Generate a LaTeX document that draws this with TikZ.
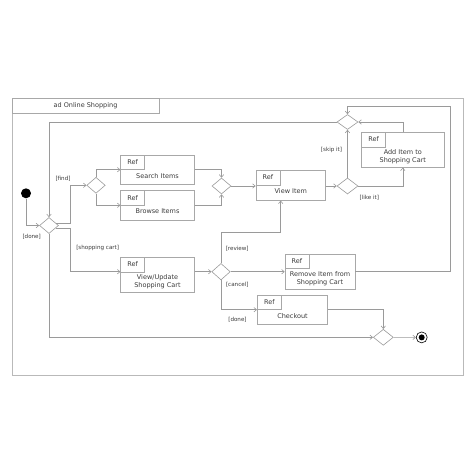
\documentclass[tikz,border=0pt]{standalone}
\usepackage{fontspec}
\setmainfont{DejaVu Sans}
\usetikzlibrary{positioning,arrows.meta,shapes.geometric}
\definecolor{linegray}{HTML}{9A9A9A}
\definecolor{boxgray}{HTML}{A8A8A8}
\definecolor{txtgray}{HTML}{3A3A3A}

\begin{document}
\begin{tikzpicture}[
  x=1pt, y=-1pt,
  every node/.style={font=\fontsize{6.5}{8.2}\selectfont, text=txtgray},
  act/.style={rectangle, draw=boxgray, line width=0.6pt, inner sep=0pt,
              label={[reftab]north west:Ref}},
  reftab/.style={anchor=north west, rectangle, draw=boxgray, line width=0.6pt,
                 minimum width=24pt, minimum height=14.5pt, inner sep=0pt},
  acttxt/.style={align=center, yshift=-6pt},
  acttwo/.style={align=center, yshift=-7pt},
  dec/.style={diamond, draw=linegray, line width=0.6pt, inner sep=0pt,
              minimum width=19pt, minimum height=16pt},
  startdot/.style={circle, fill=black, minimum size=10pt, inner sep=0pt},
  enddot/.style={circle, draw=black, line width=0.6pt, minimum size=11pt, inner sep=0pt,
                 path picture={\fill[black] (path picture bounding box.center) circle (3pt);}},
  frame/.style={draw=boxgray!80, line width=0.8pt},
  titlebox/.style={rectangle, draw=boxgray, line width=0.6pt, minimum width=147pt,
                   minimum height=15pt, inner sep=0pt},
  guard/.style={font=\fontsize{5.6}{6.7}\selectfont},
  flow/.style={draw=linegray, line width=0.6pt, -{Straight Barb[length=2.6pt,width=4.4pt]}}
]
\useasboundingbox (0,0) rectangle (474,474);

% frame and title
\draw[frame] (12,98) rectangle (463,375);
\node[titlebox] (title) at (85.5,105.5) {ad Online Shopping};

% activities and control nodes
\node[startdot] (start) at (26,193.3) {};
\node[dec] (main) at (49,225.5) {};
\node[dec, minimum width=18.5pt] (find) at (96,185.3) {};
\node[act, minimum width=73.6pt, minimum height=29.3pt,
      label={[acttxt]center:Search Items}]   (search) at (157.5,169.7) {};
\node[act, minimum width=73.6pt, minimum height=29.3pt,
      label={[acttxt]center:Browse Items}]   (browse) at (157.5,205.3) {};
\node[dec] (found) at (221.5,186) {};
\node[act, minimum width=69.7pt, minimum height=30pt,
      label={[acttxt]center:View Item}]      (view)   at (290.8,185.3) {};
\node[dec, minimum width=21pt] (like) at (347.5,186) {};
\node[dec, minimum width=21pt, minimum height=15pt] (back) at (347.5,122) {};
\node[act, minimum width=82.3pt, minimum height=35pt,
      label={[acttwo]center:Add Item to\\Shopping Cart}]     (add)    at (402.8,149.8) {};
\node[act, minimum width=73.6pt, minimum height=35pt,
      label={[acttwo]center:View/Update\\Shopping Cart}]     (cart)   at (157.5,274.8) {};
\node[dec, minimum width=18.5pt, minimum height=16.5pt] (choice) at (221,271.7) {};
\node[act, minimum width=70pt, minimum height=35.3pt,
      label={[acttwo]center:Remove Item from\\Shopping Cart}] (remove) at (320,271.7) {};
\node[act, minimum width=70.4pt, minimum height=29.3pt,
      label={[acttxt]center:Checkout}]       (checkout) at (292.5,309.7) {};
\node[dec, minimum width=20pt] (last) at (383.3,337.3) {};
\node[enddot] (stop) at (421.7,337.4) {};

\coordinate (review) at (280.7,232.7);
\coordinate (loop)   at (450.7,106);

% flows
\draw[flow] (start)   |- (main.west);
\draw[flow] (back.west) -| (main.north);
\draw[flow] (main.20)  -- ++(14,0) |- (find.west);
\draw[flow] (main.-20) -- ++(14,0) |- (cart.west |- choice.west);
\draw[flow] (find.north) |- (search.west);
\draw[flow] (find.south) |- (browse.west);
\draw[flow] (search.east) -| (found.north);
\draw[flow] (browse.east) -| (found.south);
\draw[flow] (found.east) -- (found.east -| view.west);
\draw[flow] (view.east |- like.west) -- (like.west);
\draw[flow] (like.north) -- (back.south);
\draw[flow] (like.east) -| (add.south);
\draw[flow] (add.north) |- (back.east);
\draw[flow] (main.south) |- (last.west);
\draw[flow] (cart.east |- choice.west) -- (choice.west);
\draw[flow] (choice.north) |- (review) -- (review |- view.south);
\draw[flow] (choice.east) -- (remove.west);
\draw[flow] (choice.south) |- (checkout.west);
\draw[flow] (remove.east) -| (loop) -| (back.north);
\draw[flow] (checkout.east) -| (last.north);
\draw[flow] (last.east) -- (stop.west);

% guards
\node[guard] (gfind)   at (63,178.3)    {[find]};
\node[guard] (gdone)   at (31.7,237)    {[done]};
\node[guard] (gcart)   at (97.7,248.3)  {[shopping cart]};
\node[guard] (gskip)   at (331.5,150)   {[skip it]};
\node[guard] (glike)   at (369.3,197.7) {[like it]};
\node[guard] (greview) at (237.2,248.3) {[review]};
\node[guard] (gcancel) at (237.3,284.3) {[cancel]};
\node[guard] (gend)    at (237.5,320)   {[done]};

\end{tikzpicture}
\end{document}
